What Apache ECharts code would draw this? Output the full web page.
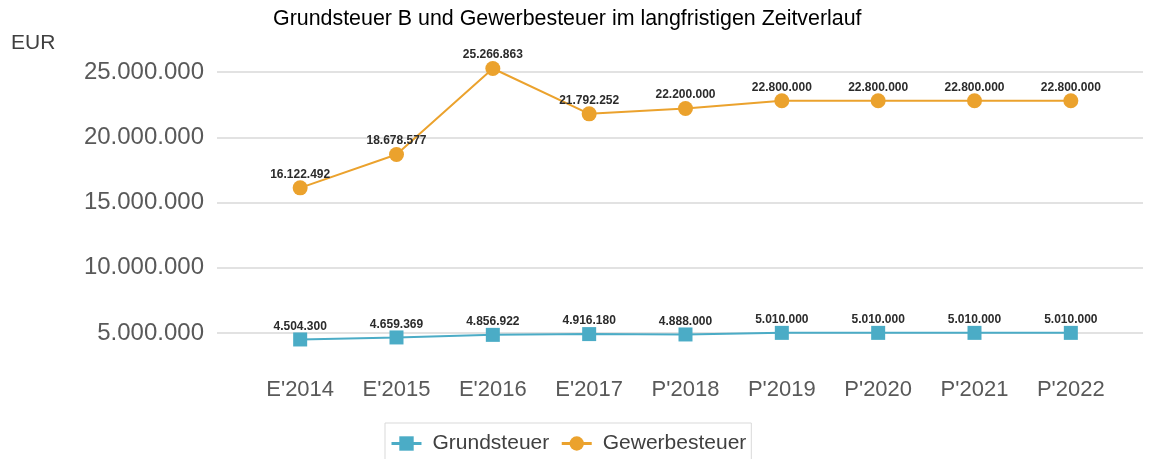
<!DOCTYPE html>
<html>
<head>
<meta charset="utf-8">
<script src="https://cdn.jsdelivr.net/npm/echarts@6/dist/echarts.min.js"></script>
<style>
  html, body { margin: 0; padding: 0; background: #fff; }
  #chart { width: 1150px; height: 459px; }
</style>
</head>
<body>
<div id="chart"></div>
<script>
const years = ["E'2014", "E'2015", "E'2016", "E'2017", "P'2018", "P'2019", "P'2020", "P'2021", "P'2022"]
const grundsteuer = [4504300, 4659369, 4856922, 4916180, 4888000, 5010000, 5010000, 5010000, 5010000]
const gewerbesteuer = [16122492, 18678577, 25266863, 21792252, 22200000, 22800000, 22800000, 22800000, 22800000]
const yMin = 5000000
const yMax = 25000000
const yStep = 5000000

const fmt = v => String(v).replace(/\B(?=(\d{3})+(?!\d))/g, '.')

const chart = echarts.init(document.getElementById('chart'))

const labelStyle = {
  show: true,
  position: 'top',
  distance: 0,
  fontSize: 12,
  fontWeight: 'bold',
  color: '#2b2b2b',
  fontFamily: 'Liberation Sans',
  formatter: p => fmt(p.value)
}

chart.setOption({
  animation: false,
  textStyle: { fontFamily: 'Liberation Sans' },
  title: {
    text: 'Grundsteuer B und Gewerbesteuer im langfristigen Zeitverlauf',
    left: 268,
    top: 4,
    textStyle: { fontSize: 21.4, fontWeight: 'normal', color: '#000' }
  },
  graphic: [{
    type: 'text',
    left: 11,
    top: 33,
    style: { text: 'EUR', fontSize: 21, fill: '#404040', fontFamily: 'Liberation Sans' }
  }],
  legend: {
    data: ['Grundsteuer', 'Gewerbesteuer'],
    left: 385,
    top: 423,
    padding: [10, 5, 30, 5],
    itemGap: 11,
    itemWidth: 30,
    itemHeight: 18,
    lineStyle: { width: 3 },
    borderColor: '#d9d9d9',
    borderWidth: 1,
    textStyle: { fontSize: 21, color: '#404040', padding: [0, 0, 0, 6] }
  },
  grid: [
    { left: 217, right: 7, top: 72, height: 261 },
    { left: 252, right: 31, top: 72, height: 261 }
  ],
  xAxis: [
    { gridIndex: 0, type: 'category', data: years, show: false },
    {
      gridIndex: 1,
      type: 'category',
      data: years,
      axisLine: { show: false },
      axisTick: { show: false },
      axisLabel: { margin: 46, fontSize: 22, color: '#595959' }
    }
  ],
  yAxis: [
    {
      gridIndex: 0,
      type: 'value',
      min: yMin,
      max: yMax,
      interval: yStep,
      axisLine: { show: false },
      axisTick: { show: false },
      axisLabel: { margin: 13, fontSize: 24, color: '#595959', formatter: fmt },
      splitLine: { lineStyle: { color: '#d9d9d9', width: 1.5 } }
    },
    {
      gridIndex: 1,
      type: 'value',
      min: yMin,
      max: yMax,
      interval: yStep,
      show: false,
      splitLine: { show: false }
    }
  ],
  series: [
    {
      name: 'Grundsteuer',
      type: 'line',
      xAxisIndex: 1,
      yAxisIndex: 1,
      data: grundsteuer,
      clip: false,
      symbol: 'rect',
      symbolSize: 14,
      color: '#4bacc6',
      lineStyle: { width: 2 },
      label: labelStyle
    },
    {
      name: 'Gewerbesteuer',
      type: 'line',
      xAxisIndex: 1,
      yAxisIndex: 1,
      data: gewerbesteuer,
      clip: false,
      symbol: 'circle',
      symbolSize: 15,
      color: '#eba22d',
      lineStyle: { width: 2 },
      label: labelStyle
    }
  ]
})
</script>
</body>
</html>
